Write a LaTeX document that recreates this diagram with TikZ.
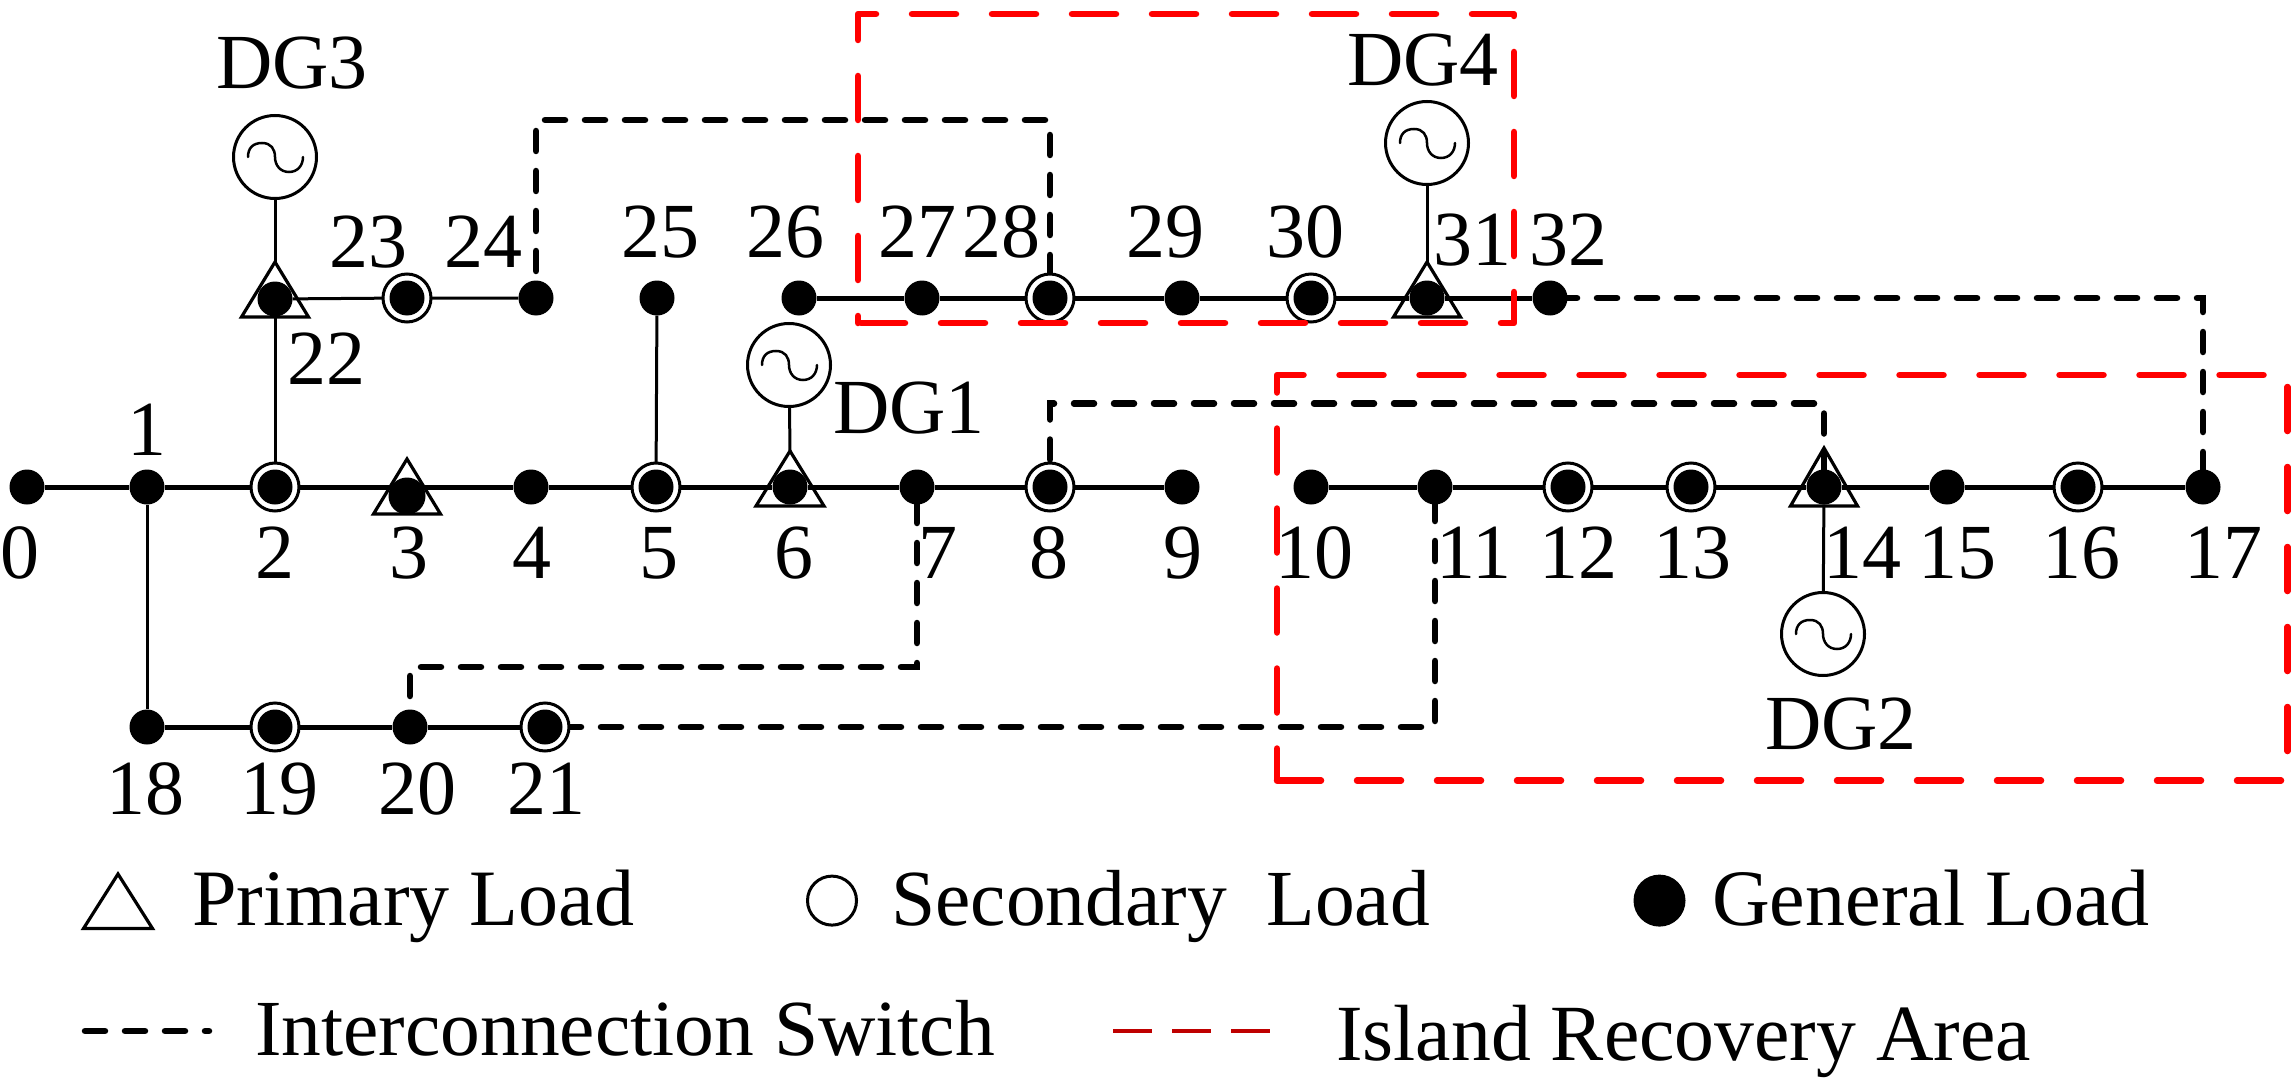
\documentclass[tikz,border=0pt]{standalone}
\usepackage{fontspec}
\setmainfont{Liberation Serif}
\pgfdeclarelayer{back}
\pgfsetlayers{back,main}
\newcommand{\loadtri}[5]{%
  \coordinate (a#1) at (#2,#3);
  \coordinate (b#1) at (#2,#4);
  \draw[tri] (a#1) -- (#2-#5,#4) -- (#2+#5,#4) -- cycle;
}
\tikzset{
  gen/.style={circle,fill=black,draw=none,minimum size=35pt,inner sep=0pt},
  ringnode/.style={circle,fill=white,draw=black,line width=3pt,minimum size=48pt,inner sep=0pt},
  dgnode/.style={circle,fill=white,draw=black,line width=3pt,minimum size=83pt,inner sep=0pt},
  wave/.style={line width=2.5pt,line cap=round},
  tri/.style={line width=3.2pt,line join=miter,draw=black},
  busline/.style={line width=5pt,draw=black},
  thinline/.style={line width=3pt,draw=black},
  tieline/.style={line width=6.5pt,draw=black,line cap=round,dash pattern=on 20pt off 20pt},
  redbox/.style={line width=6.5pt,draw=red,line cap=round,line join=round,dash pattern=on 44pt off 36pt},
  redkey/.style={line width=4pt,draw=red!75!black,dash pattern=on 39pt off 20pt},
  lab/.style={anchor=base,inner sep=0pt,font=\fontsize{78}{80}\selectfont},
  legtext/.style={anchor=base west,inner sep=0pt,font=\fontsize{80}{82}\selectfont},
}
\begin{document}
\begin{tikzpicture}[x=1pt,y=-1pt]
\useasboundingbox (0,0) rectangle (2291,1086);
% rings
\foreach \i/\x/\y in {2/275/487,5/656/487,8/1050/487,12/1568/487,13/1691/487,16/2078/487,19/275/727,21/545/727,23/407/298,28/1050/298,30/1311/298}
  \node[ringnode] (r\i) at (\x,\y) {};
% dots
\foreach \i/\x/\y in {0/27/487,1/147/487,2/275/487,4/531/487,5/656/487,6/790/487,7/917/487,8/1050/487,9/1182/487,
  10/1311/487,11/1435/487,12/1568/487,13/1691/487,14/1824/487,15/1947/487,16/2078/487,17/2203/487,
  18/147/727,19/275/727,20/410/727,21/545/727,22/275/299,23/407/298,24/536/298,25/657/298,
  26/799/298,27/922/298,28/1050/298,29/1182/298,30/1311/298,31/1427/298,32/1550/298}
  \node[gen] (n\i) at (\x,\y) {};
\node[gen,minimum size=37pt] (n3) at (407,496) {};
% triangles
\loadtri{22}{275}{262}{317}{33.5}
\loadtri{3}{407}{459}{514}{33.5}
\loadtri{6}{790}{451}{506}{34}
\loadtri{31}{1427}{262}{317}{33.5}
\loadtri{14}{1824}{448}{506}{33.5}
% generators
\node[dgnode] (dg3) at (275,157) {};
\node[dgnode] (dg1) at (789,365) {};
\node[dgnode] (dg4) at (1427,143) {};
\node[dgnode] (dg2) at (1823,634) {};
\foreach \g in {dg1,dg2,dg3,dg4}
  \draw[wave,shift={(\g.center)}] (-27,0) .. controls (-27,-9) and (-22,-14) .. (-13,-14)
    .. controls (-4,-14) and (0,-8) .. (0,0) .. controls (0,8) and (5,15) .. (14,15)
    .. controls (23,15) and (28,8) .. (28,0);
% tie line corner heights
\coordinate (t1) at (800,120);
\coordinate (t2) at (1400,403.5);
\coordinate (t3) at (600,667);
\begin{pgfonlayer}{back}
  \draw[busline] (n0) -- (n1) -- (n2) -- (n3 |- n2) -- (n4) -- (n5) -- (n6) -- (n7) -- (n8) -- (n9);
  \draw[busline] (n10) -- (n11) -- (n12) -- (n13) -- (n14) -- (n15) -- (n16) -- (n17);
  \draw[busline] (n26) -- (n27) -- (n28) -- (n29) -- (n30) -- (n31) -- (n32);
  \draw[busline] (n18) -- (n19) -- (n20) -- (n21);
  \draw[thinline] (n22) -- (n23) -- (n24);
  \draw[thinline] (n1) -- (n18);
  \draw[thinline] (n2) -- (b22);
  \draw[thinline] (n5) -- (n25);
  \draw[thinline] (dg3) -- (a22);
  \draw[thinline] (dg1) -- (a6);
  \draw[thinline] (dg4) -- (a31);
  \draw[thinline] (n14) -- (dg2);
  \draw[tieline,dash phase=13pt] (n24.center) |- (t1) -| (n28.center);
  \draw[tieline,dash phase=12.5pt] (n8.center) |- (t2) -| (n14.center);
  \draw[tieline,dash phase=33pt] (n32.center) -| (n17.center);
  \draw[tieline,dash phase=24pt] (n7.center) |- (t3) -| (n20.center);
  \draw[tieline,dash phase=24pt] (n21.center) -| (n11.center);
\end{pgfonlayer}
% bus labels
\foreach \i/\x/\y in {0/20/578,2/275/578,3/409/578,4/532/578,5/659/578,6/794/578,7/938/578,8/1049/578,9/1183/578,
  10/1314/578,11/1474/578,12/1578/578,13/1692/578,14/1862/578,15/1957/578,16/2081/578,17/2223/578,
  1/147/455,22/326/384,23/368/267,24/483/267,25/660/257,26/785/257,27/917/257,28/1001/257,29/1165/257,30/1305/257,
  31/1472/265,32/1568/265,18/145/814,19/279/814,20/417/814,21/546/814}
  \node[lab] (lab\i) at (\x,\y) {\i};
\node[lab] (ldg3) at (292,89) {DG3};
\node[lab] (ldg1) at (909,433) {DG1};
\node[lab] (ldg4) at (1423,86) {DG4};
\node[lab] (ldg2) at (1841,749) {DG2};
% legend
\loadtri{leg}{118}{874}{928.5}{34.5}
\node[legtext] (tprim) at (192,925) {Primary Load};
\node[ringnode,fill=none,minimum size=49pt] (kring) at (832,900.6) {};
\node[legtext,font=\fontsize{79.5}{82}\selectfont] (tsec) at (891,925) {Secondary\ \ Load};
\node[gen,minimum size=52pt] (kdot) at (1659.5,900.6) {};
\node[legtext] (tgen) at (1712,925) {General Load};
\coordinate (k1a) at (85,1031);
\coordinate (k1b) at (209,1031);
\draw[tieline] (k1a) -- (k1b);
\node[legtext,font=\fontsize{79.5}{84}\selectfont] (tint) at (255,1055) {Interconnection Switch};
\coordinate (k2a) at (1113,1031);
\coordinate (k2b) at (1270,1031);
\draw[redkey] (k2a) -- (k2b);
\node[legtext,font=\fontsize{79.7}{84}\selectfont] (tisl) at (1336,1060) {Island Recovery Area};
% island areas
\coordinate (ra1) at (858,14);
\coordinate (ra2) at (1514,323);
\coordinate (rb1) at (1277,375);
\coordinate (rb2) at (2287.5,780.5);
\draw[redbox,dash phase=37pt] (ra1 |- ra2) -- (ra1) -| (ra2) -- (ra1 |- ra2);
\draw[redbox,dash phase=12pt] (rb1 |- rb2) -- (rb1) -| (rb2) -- (rb1 |- rb2);
\end{tikzpicture}
\end{document}
